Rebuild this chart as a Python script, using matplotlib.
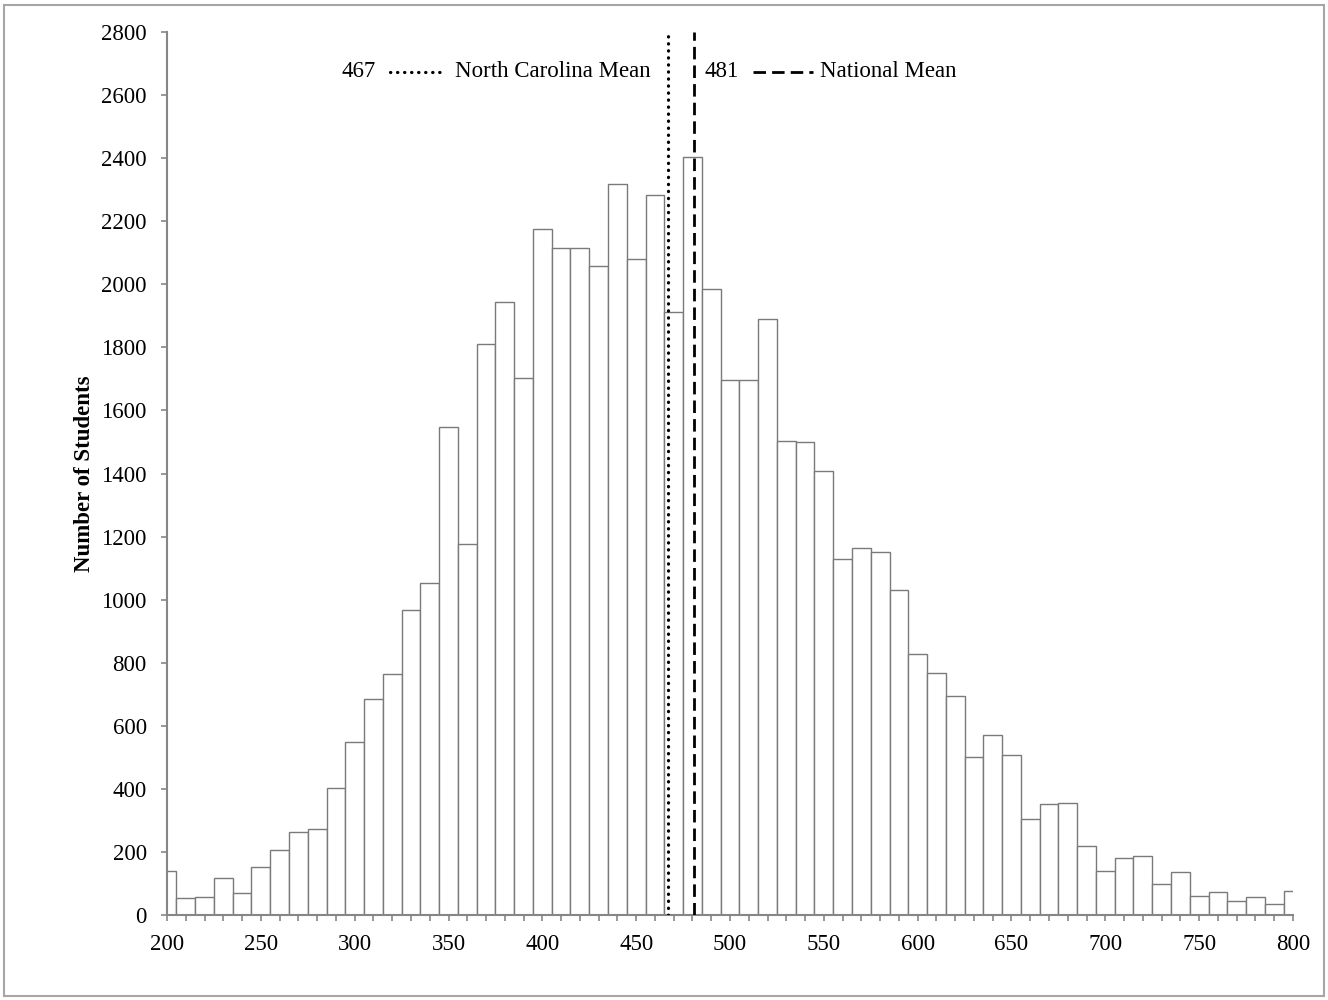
import numpy as np
import matplotlib
matplotlib.use("Agg")
import matplotlib.pyplot as plt
from matplotlib.patches import Rectangle

plt.rcParams['font.family'] = ['Liberation Serif', 'DejaVu Serif']

# score bins (centres) and student counts
bin_centers = list(range(200, 801, 10))
counts = [
    140, 55, 56, 117, 70, 152, 206, 264, 273, 403,      # 200-290
    548, 684, 764, 966, 1054, 1547, 1177, 1811, 1943, 1704,  # 300-390
    2176, 2114, 2116, 2059, 2317, 2081, 2283, 1913, 2404, 1986,  # 400-490
    1697, 1698, 1889, 1504, 1500, 1409, 1130, 1164, 1150, 1029,  # 500-590
    829, 768, 694, 501, 571, 506, 304, 351, 355, 219,   # 600-690
    140, 181, 186, 98, 136, 59, 73, 44, 57, 35,         # 700-790
    76,                                                 # 800
]

nc_mean = 467
nat_mean = 481
nc_label = "North Carolina Mean"
nat_label = "National Mean"

x_ticks = list(range(200, 801, 50))
y_ticks = list(range(0, 2801, 200))

FS = 16.5
DOT = (0, (0.1, 2.1))
DASH = (0, (4.5, 2.2))

fig = plt.figure(figsize=(13.28, 10), dpi=100)
ax = fig.add_axes([167 / 1328, 85 / 1000, 1126 / 1328, 883 / 1000])

ax.bar(bin_centers, counts, width=10, color='white', edgecolor='#7a7a7a', linewidth=1.0, zorder=2)

# mean lines
ax.axvline(nc_mean, color='black', linestyle=DOT, dash_capstyle='round', linewidth=2.3, zorder=3)
ax.axvline(nat_mean, color='black', linestyle=DASH, linewidth=2.0, zorder=3)

# hand made legend
ty = 0.955
tr = ax.get_xaxis_transform()
ax.text(nc_mean - 156, ty, str(nc_mean), ha='right', va='center', fontsize=FS, transform=tr)
ax.plot([nc_mean - 148, nc_mean - 120], [ty, ty], color='black', linestyle=DOT, dash_capstyle='round',
        linewidth=2.3, transform=tr, clip_on=False)
ax.text(nc_mean - 9.5, ty, nc_label, ha='right', va='center', fontsize=FS, transform=tr)

ax.text(nat_mean + 5.5, ty, str(nat_mean), ha='left', va='center', fontsize=FS, transform=tr)
ax.plot([nat_mean + 31.5, nat_mean + 63], [ty, ty], color='black', linestyle=DASH,
        linewidth=2.0, transform=tr, clip_on=False)
ax.text(nat_mean + 67, ty, nat_label, ha='left', va='center', fontsize=FS, transform=tr)

ax.set_xlim(200, 800)
ax.set_ylim(0, 2800)
ax.set_xticks(x_ticks)
ax.set_xticks(bin_centers, minor=True)
ax.set_yticks(y_ticks)

for s in ['top', 'right']:
    ax.spines[s].set_visible(False)
for s in ['left', 'bottom']:
    ax.spines[s].set_color('#868686')
    ax.spines[s].set_linewidth(1.5)

ax.tick_params(axis='both', which='both', direction='out', length=4.5, width=1.2,
               color='#868686', labelsize=FS, labelcolor='black')
ax.tick_params(axis='x', pad=9)
ax.tick_params(axis='y', pad=10)

fig.text(85 / 1328, 0.5265, "Number of Students", rotation=90, ha='center', va='center',
         fontsize=FS, fontweight='bold')

# grey frame around the whole figure
fig.patches.append(Rectangle((4 / 1328, 4 / 1000), 1320 / 1328, 991 / 1000, transform=fig.transFigure,
                             fill=False, edgecolor='#a6a6a6', linewidth=1.5))

fig.savefig("out.png", dpi=100)
